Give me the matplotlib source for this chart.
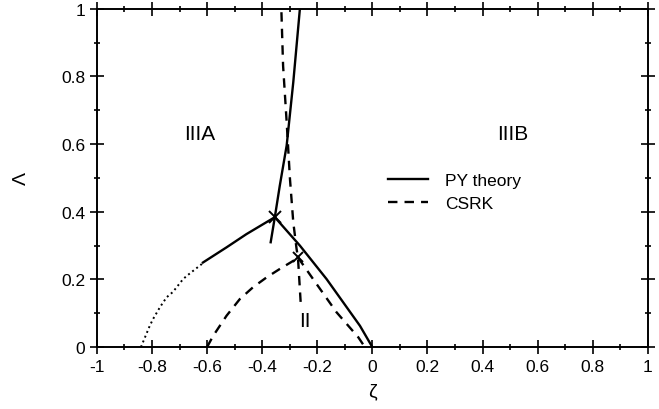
import numpy as np
import matplotlib.pyplot as plt
from matplotlib.ticker import MultipleLocator

plt.rcParams['font.family'] = ['Liberation Sans', 'DejaVu Sans']

# PY theory
py_vert_x = [-0.263, -0.287, -0.311, -0.336, -0.354, -0.369]
py_vert_y = [1.0, 0.783, 0.596, 0.477, 0.384, 0.31]
py_dot_x = [-0.84, -0.808, -0.796, -0.771, -0.747, -0.724, -0.687, -0.673, -0.62, -0.615]
py_dot_y = [0.0, 0.063, 0.083, 0.118, 0.147, 0.163, 0.201, 0.211, 0.245, 0.25]
py_left_x = [-0.615, -0.529, -0.457, -0.354]
py_left_y = [0.25, 0.295, 0.334, 0.384]
py_right_x = [-0.354, -0.263, -0.166, -0.045, 0.0]
py_right_y = [0.384, 0.30, 0.201, 0.063, 0.0]
py_cross = (-0.354, 0.384)

# CSRK
cs_vert_x = [-0.33, -0.324, -0.311, -0.299, -0.287, -0.275, -0.27, -0.26]
cs_vert_y = [0.99, 0.832, 0.665, 0.497, 0.369, 0.29, 0.265, 0.13]
cs_left_x = [-0.6, -0.578, -0.529, -0.481, -0.433, -0.384, -0.336, -0.287, -0.27]
cs_left_y = [0.0, 0.033, 0.093, 0.142, 0.177, 0.206, 0.231, 0.255, 0.265]
cs_right_x = [-0.27, -0.215, -0.13, -0.051, -0.027]
cs_right_y = [0.265, 0.201, 0.103, 0.029, 0.0]
cs_cross = (-0.27, 0.265)

fig = plt.figure(figsize=(6.59, 4.10), dpi=100)
ax = fig.add_axes([0.147, 0.151, 0.836, 0.825])

lw = 1.7
ax.plot(py_vert_x, py_vert_y, 'k-', lw=lw, label='PY theory')
ax.plot(py_dot_x, py_dot_y, 'k:', lw=1.4)
ax.plot(py_left_x, py_left_y, 'k-', lw=lw)
ax.plot(py_right_x, py_right_y, 'k-', lw=lw)
ax.plot(*py_cross, 'kx', ms=9, mew=1.4)

ax.plot(cs_vert_x, cs_vert_y, 'k--', lw=lw, dashes=(4, 3), label='CSRK')
ax.plot(cs_left_x, cs_left_y, 'k--', lw=lw, dashes=(4, 3))
ax.plot(cs_right_x, cs_right_y, 'k--', lw=lw, dashes=(4, 3))
ax.plot(*cs_cross, 'kx', ms=7, mew=1.4)

ax.text(-0.626, 0.63, 'IIIA', fontsize=15, ha='center', va='center')
ax.text(0.51, 0.63, 'IIIB', fontsize=15, ha='center', va='center')
ax.text(-0.245, 0.08, 'II', fontsize=15, ha='center', va='center')

ax.set_xlim(-1, 1)
ax.set_ylim(0, 1)
ax.xaxis.set_minor_locator(MultipleLocator(0.1))
ax.yaxis.set_minor_locator(MultipleLocator(0.1))
ax.set_xticks(np.arange(-1, 1.01, 0.2))
ax.set_xticklabels(['-1', '-0.8', '-0.6', '-0.4', '-0.2', '0', '0.2', '0.4', '0.6', '0.8', '1'])
ax.set_yticks([0, 0.2, 0.4, 0.6, 0.8, 1])
ax.set_yticklabels(['0', '0.2', '0.4', '0.6', '0.8', '1'])
ax.tick_params(which='both', direction='inout', top=True, right=True, labelsize=12.5, width=1.2)
ax.tick_params(which='major', length=10)
ax.tick_params(which='minor', length=5)
for s in ax.spines.values():
    s.set_linewidth(1.4)

ax.set_xlabel('ζ', fontsize=14, labelpad=6)
ax.set_ylabel('Λ', fontsize=14, labelpad=22)

ax.legend(loc='upper left', bbox_to_anchor=(0.5, 0.56), frameon=False, fontsize=12.5,
          handlelength=2.3, handletextpad=1.0, labelspacing=0.45)

fig.savefig('out.png', dpi=100)
